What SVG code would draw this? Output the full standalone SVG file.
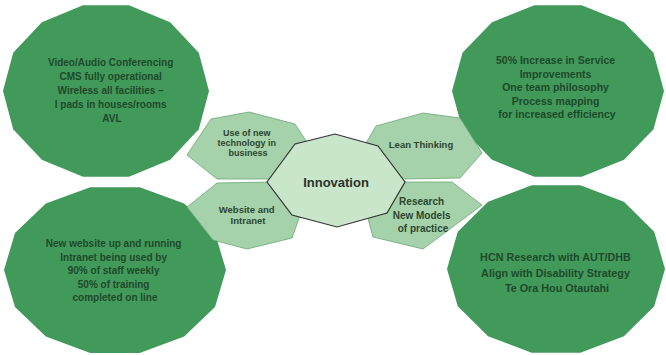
<svg xmlns="http://www.w3.org/2000/svg" xmlns:xlink="http://www.w3.org/1999/xlink" width="666" height="355" viewBox="0 0 666 355">
<defs>
<polygon id="big" points="100,0 90.1,43.4 62.3,78.2 22.3,97.5 -22.3,97.5 -62.3,78.2 -90.1,43.4 -100,0 -90.1,-43.4 -62.3,-78.2 -22.3,-97.5 22.3,-97.5 62.3,-78.2 90.1,-43.4"/>
</defs>
<style>
.big{fill:#41995a}
.bt{font-family:"Liberation Sans",Arial,sans-serif;font-weight:bold;fill:#1f4a2a;text-anchor:middle}
.hex{fill:#a5d2aa;stroke:#6aa872;stroke-width:0.8}
.ht{font-family:"Liberation Sans",Arial,sans-serif;font-weight:bold;fill:#2c4630;text-anchor:middle}
.oct{fill:#c9e6cb;stroke:#333;stroke-width:1.2}
.ct{font-family:"Liberation Sans",Arial,sans-serif;font-weight:bold;fill:#2a332b;text-anchor:middle;font-size:13px}
</style>
<rect width="666" height="355" fill="#fff"/>
<g id="connectors"></g>
<g id="outcome-tech">
<use xlink:href="#big" class="big" transform="translate(106,91) scale(1.03,0.88)"/>
<text class="bt" font-size="10">
<tspan x="112" y="66">Video/Audio Conferencing</tspan>
<tspan x="112" y="80">CMS fully operational</tspan>
<tspan x="112" y="94">Wireless all facilities –</tspan>
<tspan x="112" y="108">I pads in houses/rooms</tspan>
<tspan x="112" y="122">AVL</tspan>
</text>
</g>
<g id="outcome-lean">
<use xlink:href="#big" class="big" transform="translate(558,91) scale(1.06,0.88)"/>
<text class="bt" font-size="10.5">
<tspan x="557" y="64">50% Increase in Service</tspan>
<tspan x="557" y="78">Improvements</tspan>
<tspan x="557" y="91">One team philosophy</tspan>
<tspan x="557" y="105">Process mapping</tspan>
<tspan x="557" y="118">for increased efficiency</tspan>
</text>
</g>
<g id="outcome-web">
<use xlink:href="#big" class="big" transform="translate(115,270) scale(1.11,0.85)"/>
<text class="bt" font-size="10">
<tspan x="115" y="247">New website up and running</tspan>
<tspan x="115" y="261">Intranet being used by</tspan>
<tspan x="115" y="274">90% of staff weekly</tspan>
<tspan x="115" y="288">50% of training</tspan>
<tspan x="115" y="301">completed on line</tspan>
</text>
</g>
<g id="outcome-research">
<use xlink:href="#big" class="big" transform="translate(556,269) scale(1.09,0.86)"/>
<text class="bt" font-size="10.8">
<tspan x="557" y="261">HCN Research with AUT/DHB</tspan>
<tspan x="557" y="277">Align with Disability Strategy</tspan>
<tspan x="557" y="292">Te Ora Hou Otautahi</tspan>
</text>
</g>
<g id="hex-tech">
<polygon class="hex" points="187,155 211,119 249,112 295,124 312,150 272,179 217,179"/>
<text class="ht" font-size="9">
<tspan x="248" y="136">Use of new</tspan>
<tspan x="248" y="146.2">technology in</tspan>
<tspan x="248" y="156.4">business</tspan>
</text>
</g>
<g id="hex-web">
<polygon class="hex" points="187,207 217,183 270,182 302,210 292,238 247,249 213,240"/>
<text class="ht" font-size="9.5">
<tspan x="248" y="213">Website and</tspan>
<tspan x="248" y="223.8">Intranet</tspan>
</text>
</g>
<g id="hex-lean">
<polygon class="hex" points="362,150 376,126 423,113 460,118 482,153 460,178 405,179"/>
<text class="ht" font-size="9.5">
<tspan x="421" y="148">Lean Thinking</tspan>
</text>
</g>
<g id="hex-research">
<polygon class="hex" points="367,215 378,190 403,182 452,182 482,205 423,249 373,237"/>
<text class="ht" font-size="10">
<tspan x="423" y="205">Research</tspan>
<tspan x="423" y="219">New Models</tspan>
<tspan x="423" y="232">of practice</tspan>
</text>
</g>
<g id="innovation">
<polygon class="oct" points="267,182 295,144 335,134 378,146 405,182 387,213 337,227 292,215"/>
<text class="ct" x="336" y="187">Innovation</text>
</g>
</svg>
